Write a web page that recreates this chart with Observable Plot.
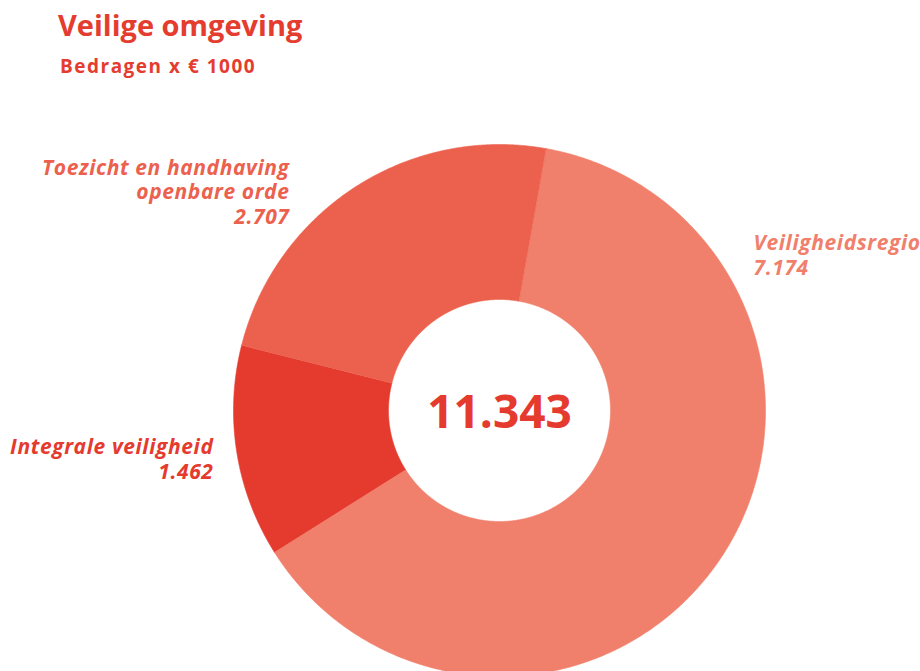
<!DOCTYPE html>
<html><head><meta charset="utf-8">
<script src="https://cdn.jsdelivr.net/npm/d3@7"></script>
<script src="https://cdn.jsdelivr.net/npm/@observablehq/plot@0.6"></script>
<style>
body{margin:0;background:#fff;font-family:"Open Sans",sans-serif;}
#header{position:relative;height:100px;width:920px;}
#title{position:absolute;left:58px;top:5px;font-size:29px;font-weight:700;color:#e43d30;white-space:nowrap;}
#subtitle{position:absolute;left:60px;top:53px;font-size:19px;letter-spacing:1.5px;font-weight:700;color:#e43d30;white-space:nowrap;}
#chart svg{display:block;}
#chart svg g.lbl text{letter-spacing:0.6px;}
</style></head><body>
<div id="header"><div id="title">Veilige omgeving</div><div id="subtitle">Bedragen x € 1000</div></div>
<div id="chart"></div>
<script>
// ---- data ----
const categories = ["Veiligheidsregio", "Integrale veiligheid", "Toezicht en handhaving openbare orde"];
const labelTexts = ["Veiligheidsregio", "Integrale veiligheid", "Toezicht en handhaving\nopenbare orde"];
const values = [7.174, 1.462, 2.707];
const valueLabels = ["7.174", "1.462", "2.707"];
const totalLabel = "11.343";
const colors = ["#f07f6c", "#e53b2f", "#ec614e"];

// ---- layout ----
const W = 920, H = 571;
const cx = 499, cy = 310, R = 266, innerR = 111 / 266;
const startAngle = 10.1 * Math.PI / 180;
// label anchor in svg px, and text anchor
const labelLayout = [
  {px: 753, py: 154, anchor: "start"},
  {px: 213, py: 358, anchor: "end"},
  {px: 289, py: 91, anchor: "end"}
];
const toX = px => (px - cx) / R;
const toY = py => (cy - py) / R;

const pie = d3.pie().sort(null).startAngle(startAngle).endAngle(startAngle + 2 * Math.PI).value(d => d.value);
const slices = pie(categories.map((c, i) => ({name: c, value: values[i]})));
const verts = [];
for (const s of slices) {
  const span = s.endAngle - s.startAngle;
  const n = Math.ceil(span / 0.005);
  for (let k = 0; k <= n; k++) {
    const a = s.startAngle + span * k / n;
    verts.push({name: s.data.name, x: Math.sin(a), y: Math.cos(a)});
  }
  for (let k = n; k >= 0; k--) {
    const a = s.startAngle + span * k / n;
    verts.push({name: s.data.name, x: innerR * Math.sin(a), y: innerR * Math.cos(a)});
  }
}
const labels = categories.map((c, i) => ({
  name: c,
  text: labelTexts[i] + "\n" + valueLabels[i],
  x: toX(labelLayout[i].px), y: toY(labelLayout[i].py), anchor: labelLayout[i].anchor
}));

const labelStyle = {x: "x", y: "y", text: "text", fill: "name", fontSize: 21, fontWeight: 700, fontStyle: "italic", lineHeight: 1.17, className: "lbl"};
const chart = Plot.plot({
  width: W, height: H, margin: 0,
  x: {domain: [toX(0), toX(W)], axis: null},
  y: {domain: [toY(H), toY(0)], axis: null},
  color: {domain: categories, range: colors},
  style: {fontFamily: "'Open Sans', sans-serif", background: "#fff"},
  marks: [
    Plot.line(verts, {x: "x", y: "y", z: "name", fill: "name", stroke: "name", strokeWidth: 0.6}),
    Plot.text(labels.filter(d => d.anchor === "start"), {...labelStyle, textAnchor: "start"}),
    Plot.text(labels.filter(d => d.anchor === "end"), {...labelStyle, textAnchor: "end"}),
    Plot.text([totalLabel], {x: 0, y: 0, text: d => d, fill: "#e53b2f", fontSize: 46, fontWeight: 700, dy: 3})
  ]
});
document.getElementById("chart").appendChild(chart);
</script>
</body></html>
